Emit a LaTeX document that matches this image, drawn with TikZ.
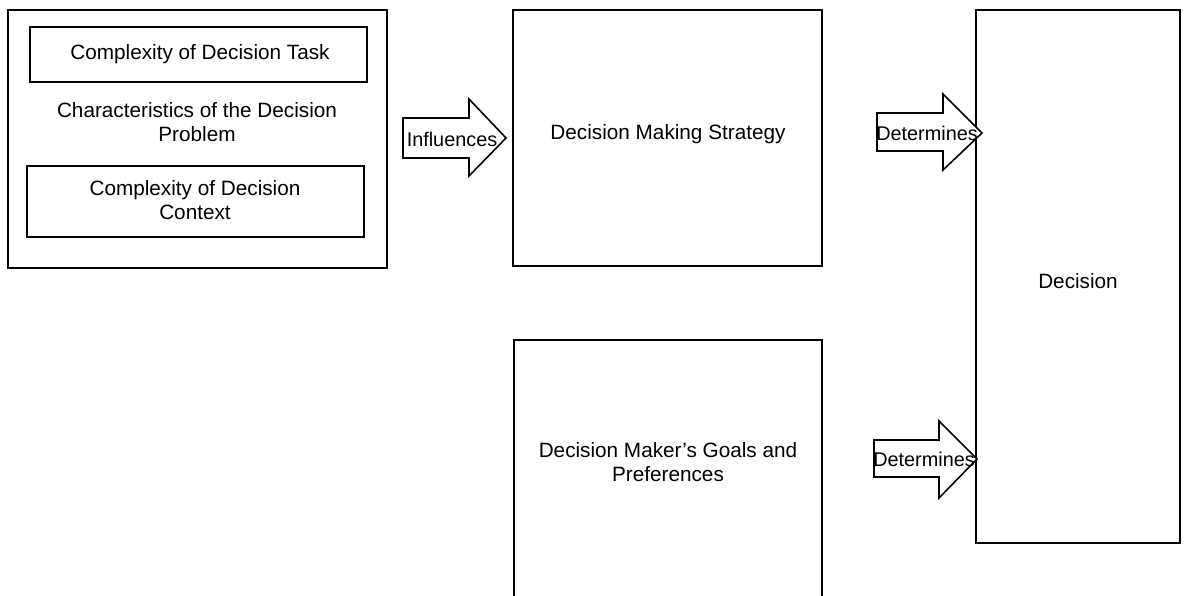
\documentclass[tikz,border=0pt]{standalone}
\usepackage{fontspec}
\setmainfont{Liberation Sans}
\begin{document}
\begin{tikzpicture}[x=0.02cm,y=-0.02cm,
  box/.style={draw,line width=0.9pt,inner sep=0pt},
  lbl/.style={font=\fontsize{11.8}{13.6}\selectfont,align=center,inner sep=0pt},
  arrowlbl/.style={font=\fontsize{11.3}{13}\selectfont,inner sep=0pt},
  blockarrow/.style={draw,line width=0.9pt,fill=white,line join=miter}]
\useasboundingbox (0,0) rectangle (1192,595);
\clip (0,0) rectangle (1192,595);

% left group: characteristics of the decision problem
\draw[box] (8,10) rectangle (387,268);
\draw[box] (30,27) rectangle (367,82);
\node[lbl] (task) at (200,54) {Complexity of Decision Task};
\node[lbl] (chars) at (197,122) {Characteristics of the Decision\\Problem};
\draw[box] (27,166) rectangle (364,237);
\node[lbl] (ctx) at (195,200) {Complexity of Decision\\Context};

% strategy box
\draw[box] (513,10) rectangle (822,266);
\node[lbl] (strat) at (668,134) {Decision Making Strategy};

% goals box, running off the lower edge
\draw[box] (514,610) -- (514,340) -- (822,340) -- (822,610);
\node[lbl] (goals) at (668,462) {Decision Maker's Goals and\\Preferences};

% decision box
\draw[box] (976,10) rectangle (1180,543);
\node[lbl] (dec) at (1078,281) {Decision};

% block arrows
\draw[blockarrow] (403,118) -- (469,118) -- (469,99) -- (506,138) -- (469,176) -- (469,158) -- (403,158) -- cycle;
\node[arrowlbl] (infl) at (452,139) {Influences};

\draw[blockarrow] (877,113) -- (943,113) -- (943,94) -- (982,133) -- (943,170) -- (943,151) -- (877,151) -- cycle;
\node[arrowlbl] (det1) at (927,133) {Determines};

\draw[blockarrow] (874,440) -- (939,440) -- (939,421) -- (977,459) -- (939,498) -- (939,477) -- (874,477) -- cycle;
\node[arrowlbl] (det2) at (924,459) {Determines};
\end{tikzpicture}
\end{document}
